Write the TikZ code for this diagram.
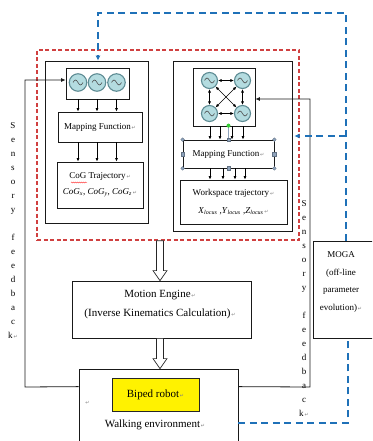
\documentclass[tikz,border=0pt]{standalone}
\usepackage{fontspec}
\setmainfont{Liberation Serif}
\newfontfamily\symfont{DejaVu Sans}
\usetikzlibrary{arrows.meta,calc,decorations.pathmorphing}

\definecolor{oscfill}{HTML}{B4DCE0}
\definecolor{oscline}{HTML}{5E8C94}
\definecolor{fbblue}{HTML}{1F71B8}
\definecolor{evored}{HTML}{D04040}
\definecolor{handle}{HTML}{8EA3BC}
\definecolor{handlegreen}{HTML}{33CC33}

% paragraph mark left behind by the word processor
\newcommand\retmark{{\symfont\fontsize{5}{5}\selectfont\color{gray}\,↵}}

% hollow block arrow from #1 down to #2
\newcommand\hollowarrow[2]{%
  \draw[hollow] let \p1=(#1), \p2=(#2) in
    (\x1-3.5pt,\y1) -- (\x2-3.5pt,\y2+10pt) -- (\x2-7pt,\y2+10pt) -- (\x2,\y2)
    -- (\x2+7pt,\y2+10pt) -- (\x2+3.5pt,\y2+10pt) -- (\x1+3.5pt,\y1) -- cycle;}

\begin{document}
\begin{tikzpicture}[x=1pt,y=-1pt,
  box/.style={draw=black!90, line width=0.75pt, inner sep=0pt, align=center,
    font=\fontsize{9}{16}\selectfont},
  osc/.style={circle, draw=oscline, fill=oscfill, line width=1.1pt, inner sep=0pt,
    minimum size=#1,
    path picture={\draw[black!70, line width=0.6pt]
      ([xshift=-5pt]path picture bounding box.center)
      sin ++(2.5pt,2.5pt) cos ++(2.5pt,-2.5pt) sin ++(2.5pt,-2.5pt) cos ++(2.5pt,2.5pt);}},
  osc/.default=17.5pt,
  arr/.style={-{Latex[length=3.5pt,width=3pt]}, line width=0.7pt},
  biarr/.style={{Latex[length=3.5pt,width=3pt]}-{Latex[length=3.5pt,width=3pt]}, line width=0.7pt},
  fb/.style={-{Latex[length=4.5pt,width=4pt]}, line width=0.8pt, black!90},
  bluedash/.style={fbblue, line width=2pt, dash pattern=on 7pt off 4.5pt},
  bluearr/.style={bluedash, -{Latex[length=5pt,width=5pt]}},
  hollow/.style={draw=black!85, fill=white, line width=0.7pt},
  vtext/.style={align=center, inner sep=0pt, font=\fontsize{9}{14}\selectfont}]

\useasboundingbox (0,0) rectangle (372,441);
\clip (0,0) rectangle (372,441);

% evolving controller region
\node[draw=evored, line width=1.3pt, dash pattern=on 4pt off 2.5pt,
  minimum width=262, minimum height=190, inner sep=0pt] (evo) at (168,145) {};

% left module: CPG oscillators -> mapping -> CoG trajectory
\node[box, minimum width=103, minimum height=162] (lmod) at (96.5,142) {};
\node[box, minimum width=63, minimum height=31] (losc) at (97.5,83.5) {};
\node[osc] (o1) at (78,82.5) {};
\node[osc] (o2) at (97,82.5) {};
\node[osc] (o3) at (116.5,82.5) {};
\node[box, minimum width=84, minimum height=30] (lmf) at (100,127) {Mapping Function\retmark};
\node[box, minimum width=86, minimum height=46] (cog) at (100,185)
  {CoG Trajectory\retmark\\
   \textit{CoG}\textsubscript{\textit{x}}, \textit{CoG}\textsubscript{\textit{y}}, \textit{CoG}\textsubscript{\textit{z}}\retmark};
\draw[red!85, line width=0.4pt, decorate, decoration={snake, amplitude=0.5pt, segment length=2pt}]
  (71,182.5) -- (87,182.5);
\foreach \o in {o1,o2,o3}{
  \draw[arr] (losc.south -| \o) -- (lmf.north -| \o);
  \draw[arr] (lmf.south -| \o) -- (cog.north -| \o);
}

% right module: coupled oscillators -> mapping -> workspace trajectory
\node[box, minimum width=119, minimum height=170] (rmod) at (232.5,146) {};
\node[box, minimum width=62, minimum height=58] (rosc) at (224,97) {};
\node[osc=16pt] (q1) at (209.5,80.5) {};
\node[osc=16pt] (q2) at (242.5,80.5) {};
\node[osc=16pt] (q3) at (209.5,113.5) {};
\node[osc=16pt] (q4) at (242.5,113.5) {};
\draw[biarr] (q1) -- (q2);
\draw[biarr] (q3) -- (q4);
\draw[biarr] (q1) -- (q3);
\draw[biarr] (q2) -- (q4);
\draw[biarr] (q1) -- (q4);
\draw[biarr] (q2) -- (q3);
\node[box, minimum width=91, minimum height=28] (rmf) at (228.5,154) {Mapping Function\retmark};
\node[box, minimum width=107, minimum height=44, font=\fontsize{9}{18}\selectfont] (ws) at (233.5,202)
  {Workspace trajectory\retmark\\
   \textit{X}\textsubscript{\textit{locus}} ,\textit{Y}\textsubscript{\textit{locus}} ,\textit{Z}\textsubscript{\textit{locus}}\retmark};
\foreach \dx in {0.5,10.5,22.5,33.5}
  \draw[arr] ($(rosc.south -| q1)+(\dx,0)$) -- ($(rmf.north -| q1)+(\dx,0)$);
\foreach \dx in {0.5,13.5,25.5,35.5}
  \draw[arr] ($(rmf.south -| q1)+(\dx,0)$) -- ($(ws.north -| q1)+(\dx,0)$);

% selection handles on the mapping box
\draw[handle, line width=0.8pt] (rmf.north) -- ([yshift=14pt]rmf.north);
\fill[handlegreen] ([yshift=14pt]rmf.north) circle (2pt);
\foreach \a in {north west,north east,south west,south east}
  \filldraw[fill=handle, draw=handle!70!black, line width=0.3pt] (rmf.\a) circle (1.8pt);
\foreach \a in {north,south,west,east}
  \filldraw[fill=handle, draw=handle!70!black, line width=0.3pt]
    ($(rmf.\a)+(-1.8pt,-1.8pt)$) rectangle ($(rmf.\a)+(1.8pt,1.8pt)$);

% motion engine and robot
\node[box, minimum width=179, minimum height=57] (me) at (161.5,309.5) {};
\node[align=center, inner sep=0pt, font=\fontsize{11}{19}\selectfont] (metext) at (160,304.5)
  {Motion Engine\retmark\\(Inverse Kinematics Calculation)\retmark};
\node[box, minimum width=159, minimum height=120] (walk) at (158.5,429) {};
\node[draw=black!85, fill=yellow, line width=0.7pt, minimum width=87, minimum height=33,
  inner sep=0pt, font=\fontsize{11}{13}\selectfont] (biped) at (155.5,394.5) {Biped robot\retmark};
\node[inner sep=0pt, font=\fontsize{11}{13}\selectfont] (wetext) at (155,425) {Walking environment\retmark};
\node[inner sep=0pt] (mark) at (87,403) {\retmark};

\hollowarrow{evo.south -| metext}{me.north -| metext}
\hollowarrow{me.south -| metext}{walk.north -| metext}

% off-line optimiser
\node[box, minimum width=72, minimum height=97] (moga) at (349,289.5) {};
\node[align=center, inner sep=0pt, font=\fontsize{9}{17.5}\selectfont] (mogatext) at (341,282)
  {MOGA\\(off-line\\parameter\\evolution)\retmark};

% sensory feedback loops
\coordinate (lfb) at (25,387);
\coordinate (rfb) at (310,387);
\draw[fb] ([yshift=-18pt]walk.north west) -- (lfb) |- ([yshift=3.5pt]losc.west);
\draw[fb] ([yshift=-18pt]walk.north east) -- (rfb) |- ([yshift=-2pt]rosc.east);
\node[vtext] (sensL) at (13,231) {S\\e\\n\\s\\o\\r\\y\\[14pt]f\\e\\e\\d\\b\\a\\c\\k\retmark};
\node[vtext] (sensR) at (304,309) {S\\e\\n\\s\\o\\r\\y\\[14pt]f\\e\\e\\d\\b\\a\\c\\k\retmark};

% parameter evolution links
\coordinate (btr) at (346,13);
\coordinate (btl) at (98,13);
\coordinate (bbr) at (346,136);
\draw[bluearr] ([xshift=-3pt]moga.north) -- (btr) -- (btl) -- (btl |- lmod.north);
\draw[bluearr] (bbr) -- ([xshift=2pt]bbr -| rmod.east);
\draw[bluedash] ([yshift=-54pt]walk.north east) -| ([xshift=-1pt]moga.south);

\end{tikzpicture}
\end{document}
